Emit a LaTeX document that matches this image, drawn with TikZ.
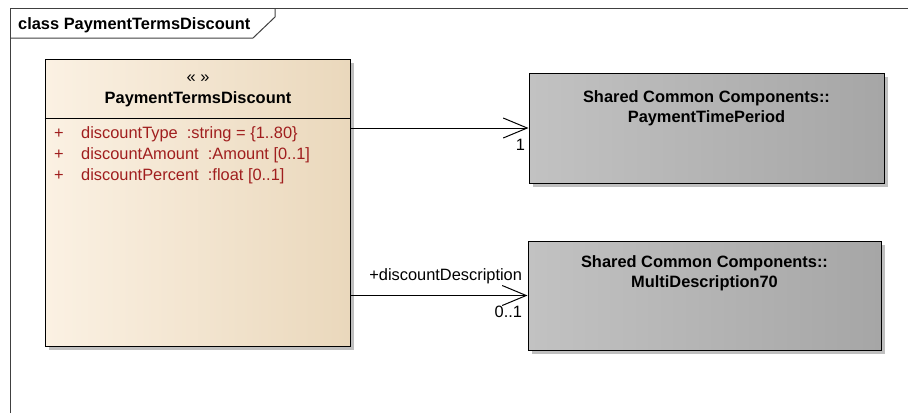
\documentclass[tikz,border=0pt]{standalone}
\usepackage{fontspec}
\setmainfont{Liberation Sans}
\usetikzlibrary{shadows,arrows.meta}
\definecolor{clsLight}{HTML}{FBF1E3}
\definecolor{clsDark}{HTML}{EAD8BC}
\definecolor{refLight}{HTML}{C2C2C2}
\definecolor{refDark}{HTML}{A6A6A6}
\definecolor{attrRed}{HTML}{A01E1E}
\begin{document}
\begin{tikzpicture}[x=1pt, y=-1pt, every node/.style={font=\fontsize{16.4}{20}\selectfont, inner sep=0pt},
  umlbox/.style={draw, line width=1pt, drop shadow={shadow xshift=4pt, shadow yshift=-4pt, fill=black!25, opacity=1}},
  refbox/.style={umlbox, left color=refLight, middle color=refLight, right color=refDark, align=center},
  assoc/.style={line width=1pt, -{Straight Barb[length=24pt, width=20pt, line width=1pt]}}]
\useasboundingbox (0,0) rectangle (908,413);
% frame and tab
\draw[line width=1pt, black!75] (10,413) -- (10,8) -- (908,8);
\draw[line width=1pt, black!75] (10,38) -- (253,38) -- (275,17) -- (275,8);
\node[anchor=base west, font=\fontsize{16.4}{20}\selectfont\bfseries] (title) at (18,29) {class PaymentTermsDiscount};
% class
\node[umlbox, left color=clsLight, middle color=clsLight, right color=clsDark, minimum width=305pt, minimum height=287pt] (cls) at (197.5,202.5) {};
\node (stereo) at (198,79) {« »};
\node[font=\fontsize{16.4}{20}\selectfont\bfseries] (clsname) at (198,99) {PaymentTermsDiscount};
\draw[line width=1pt] (cls.west |- 0,118) -- (cls.east |- 0,118);
\foreach \a [count=\i] in {{discountType~~:string = \{1..80\}}, {discountAmount~~:Amount [0..1]}, {discountPercent~~:float [0..1]}} {
  \node[anchor=west, text=attrRed] (plus\i) at (54,113+21*\i) {+};
  \node[anchor=west, text=attrRed] (attr\i) at (81,113+21*\i) {\a};
}
% referenced classes
\node[refbox, minimum width=355pt, minimum height=110pt] (ptp) at (706.5,128) {};
\node[font=\fontsize{16.4}{20}\selectfont\bfseries, align=center] (ptpname) at (706.5,108) {Shared Common Components::\\PaymentTimePeriod};
\node[refbox, minimum width=353pt, minimum height=109pt] (md) at (704.5,295.5) {};
\node[font=\fontsize{16.4}{20}\selectfont\bfseries, align=center] (mdname) at (704.5,273.5) {Shared Common Components::\\MultiDescription70};
% associations
\draw[assoc] (cls.east |- ptp.west) -- (ptp.west) node[pos=1, below left, xshift=-3pt, yshift=-11pt] (m1) {1};
\draw[assoc] (cls.east |- md.west) -- (md.west)
  node[pos=1, above left, xshift=-5pt, yshift=11pt] (role2) {+discountDescription}
  node[pos=1, below left, xshift=-5pt, yshift=-10pt] (m2) {0..1};
\end{tikzpicture}
\end{document}
